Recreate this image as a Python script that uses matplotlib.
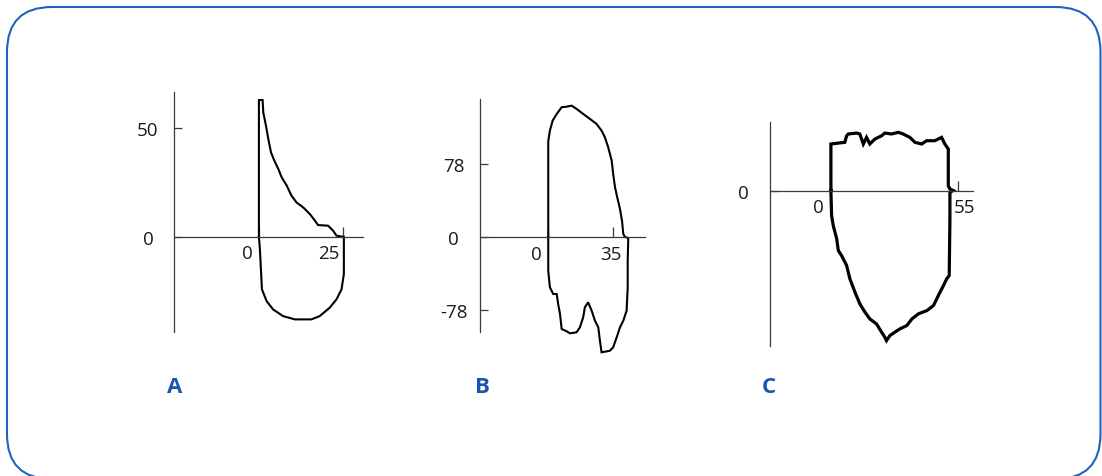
import matplotlib.pyplot as plt
from matplotlib.patches import FancyBboxPatch
from matplotlib.transforms import ScaledTranslation

plt.rcParams['font.family'] = ['Open Sans', 'DejaVu Sans']
plt.rcParams['axes.unicode_minus'] = False

W, H = 1102, 477

# Loop A: flow against volume
a_vol = [0, 0, 1.1, 1.3, 2.1, 2.8, 3.6, 4.6, 5.8, 6.8, 8.3, 9.7, 11.2, 13.2,
         15.2, 16.7, 17.6, 20.6, 22.1, 23.1, 25.1, 25.3, 25.3, 24.6, 23.1,
         21.1, 18.1, 15.6, 10.7, 7.2, 4.2, 2.3, 0.9, 0.6, 0.3, 0]
a_flow = [0, 62.9, 62.9, 57.2, 51.1, 45.0, 38.8, 35.0, 31.1, 27.3, 23.5, 18.9,
          15.8, 13.5, 10.4, 7.4, 5.4, 5.1, 2.8, 0.5, 0, 0, -17.2, -24.2,
          -28.8, -32.6, -36.5, -38.0, -38.0, -36.5, -33.4, -29.6, -24.2,
          -15.0, -5.8, 0]
a_xticks = [0, 25]
a_yticks = [0, 50]

# Loop B
b_vol = [0, 0, 0.9, 2.4, 4.6, 7.3, 10.0, 12.7, 15.4, 19.0, 22.7, 26.3, 29.0,
         30.8, 32.6, 34.5, 35.3, 36.3, 37.5, 39.0, 40.1, 40.8, 41.7, 43.5,
         43.2, 43.2, 42.6, 40.8, 39.0, 37.2, 35.3, 33.5, 29.0, 28.1, 27.2,
         25.4, 23.6, 21.7, 19.9, 19.0, 17.2, 15.4, 11.8, 10.0, 7.3, 6.4, 5.4,
         4.6, 2.7, 0.9, 0, 0]
b_flow = [0, 102.2, 113.6, 124.3, 131.4, 138.6, 139.2, 140.3, 136.8, 131.4,
          126.1, 120.7, 113.6, 106.5, 95.8, 81.5, 67.3, 53.1, 42.4, 29.9, 17.4,
          3.2, 0, -1, -25.3, -53.7, -78.7, -89.4, -96.5, -107.2, -117.8,
          -121.5, -123.2, -110.8, -96.5, -89.4, -78.7, -69.8, -75.1, -85.8,
          -96.5, -101.8, -102.9, -100.7, -98.3, -82.3, -71.6, -60.9, -60.9,
          -53.7, -36.0, 0]
b_xticks = [0, 35]
b_yticks = [-78, 0, 78]

# Loop C
c_vol = [0, 0, 6.0, 6.8, 7.5, 11.1, 12.5, 14.0, 15.4, 16.8, 19.0, 21.9, 23.3,
         26.2, 29.1, 31.2, 34.1, 36.3, 39.2, 41.3, 44.9, 47.8, 49.2, 50.7,
         50.7, 51.4, 52.8, 51.4, 51.4, 51.1, 50.0, 48.6, 46.4, 44.3, 41.5,
         37.8, 35.0, 32.8, 29.8, 27.6, 25.5, 24.0, 23.3, 21.9, 19.7, 16.8,
         14.7, 12.5, 10.4, 8.2, 6.8, 4.6, 3.2, 2.5, 1.0, 0.3, 0]
c_flow = [0, 49.7, 51.5, 58.5, 60.4, 61.4, 60.4, 49.7, 56.8, 49.7, 55.0, 58.5,
          61.4, 60.4, 62.2, 60.4, 56.8, 51.5, 49.7, 53.2, 53.2, 56.8, 49.7,
          44.3, 5.1, 1.6, 0, -2, -30.4, -90.9, -94.4, -101.6, -112.3, -122.9,
          -128.3, -131.8, -137.2, -144.3, -147.9, -151.4, -155.0, -160.4,
          -156.8, -151.4, -142.6, -137.2, -130.0, -121.1, -108.7, -94.4,
          -80.2, -69.5, -64.1, -51.6, -37.4, -26.7, 0]
c_xticks = [0, 55]
c_yticks = [0]

panel_names = ['A', 'B', 'C']

BLUE = '#1655b0'
AXIS = '#3a3a3a'

fig = plt.figure(figsize=(W / 100, H / 100), dpi=100)

# background layer in pixel units (y measured upward): frame and letters
bg = fig.add_axes([0, 0, 1, 1])
bg.set_xlim(0, W)
bg.set_ylim(0, H)
bg.axis('off')
bg.add_patch(FancyBboxPatch((7, -3), 1093.5, H - 8 + 3,
                            boxstyle='round,pad=0,rounding_size=45',
                            fill=False, ec='#1f62be', lw=1.5, clip_on=False))


def loop_axes(box, xlim, ylim, vol, flow, xticks, yticks, xlab_dx, lw):
    left, top, right, bottom = box
    ax = fig.add_axes([left / W, 1 - bottom / H,
                       (right - left) / W, (bottom - top) / H])
    ax.set_xlim(xlim)
    ax.set_ylim(ylim)
    ax.patch.set_alpha(0)
    for s in ('top', 'right'):
        ax.spines[s].set_visible(False)
    ax.spines['bottom'].set_position(('data', 0))
    for s in ('left', 'bottom'):
        ax.spines[s].set_linewidth(0.9)
        ax.spines[s].set_color(AXIS)

    ax.plot(vol, flow, color='black', lw=lw, solid_joinstyle='miter',
            clip_on=False)

    ax.set_xticks(xticks)
    ax.set_yticks(yticks)
    ax.tick_params(direction='in', length=7.5, width=0.9, color=AXIS,
                   labelsize=13.5, labelcolor='#1a1a1a')
    ax.tick_params(axis='x', pad=5.5)
    ax.tick_params(axis='y', pad=19, length=6)
    for lab in ax.get_yticklabels():
        lab.set_ha('center')
    for lab, dx in zip(ax.get_xticklabels(), xlab_dx):
        lab.set_transform(lab.get_transform() +
                          ScaledTranslation(dx / 100, 0, fig.dpi_scale_trans))
    return ax


loop_axes((174.3, 93, 363, 333), (-25.2, 31.0), (-43.8, 66.6),
          a_vol, a_flow, a_xticks, a_yticks, [-12, -14], 1.5)
loop_axes((480, 100, 645, 333.3), (-37.1, 52.6), (-101.8, 147.4),
          b_vol, b_flow, b_xticks, b_yticks, [-11.5, -2], 1.5)
loop_axes((770, 123.3, 973.3, 347.3), (-26.3, 61.5), (-166.5, 72.9),
          c_vol, c_flow, c_xticks, c_yticks, [-12.5, 6], 2.3)

for name, x in zip(panel_names, [175, 482, 769]):
    bg.text(x, H - 393.3, name, ha='center', va='baseline', fontsize=16,
            fontweight='bold', color=BLUE)

fig.savefig('out.png', dpi=100)
